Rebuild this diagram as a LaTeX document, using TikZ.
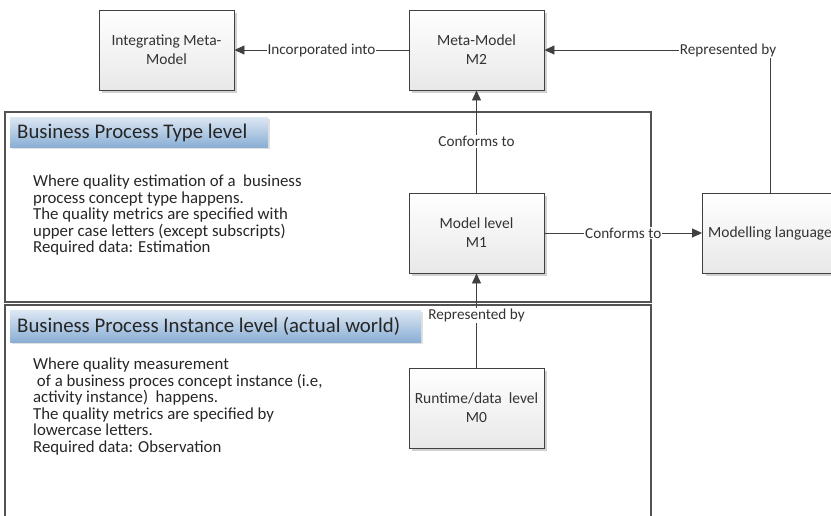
\documentclass[tikz,border=0pt]{standalone}
\usepackage{fontspec}
\setmainfont{Carlito}
\usetikzlibrary{shadows,arrows.meta}
\definecolor{edge}{HTML}{404040}
\definecolor{txt}{HTML}{333333}
\definecolor{hdrtop}{HTML}{DCE7F3}
\definecolor{hdrbot}{HTML}{8AAED5}
\tikzset{
  levelbox/.style={draw=edge, line width=0.9pt, fill=white, minimum width=135pt, minimum height=80pt,
    top color=white, bottom color=black!9, align=center, text=txt, font=\fontsize{15.5}{19}\selectfont,
    drop shadow={shadow xshift=3pt, shadow yshift=-3pt, fill=black!18, opacity=1}},
  zone/.style={draw=edge!90, line width=1.1pt},
  header/.style={anchor=north west, inner sep=0pt, draw=none,
    top color=hdrtop, bottom color=hdrbot,
    drop shadow={shadow xshift=2pt, shadow yshift=-2pt, fill=black!12, opacity=1}},
  headtext/.style={anchor=base west, inner sep=0pt, text=black!85, font=\fontsize{20.8}{24}\selectfont},
  flow/.style={draw=edge, line width=0.9pt, -{Triangle[length=10pt,width=9pt]}},
  tag/.style={fill=white, inner sep=1pt, text=txt, font=\fontsize{15.2}{18}\selectfont},
  body/.style={anchor=north west, align=left, text=black!85, inner sep=0pt, font=\fontsize{16.8}{16.5}\selectfont}
}
\begin{document}
\begin{tikzpicture}[x=1pt,y=-1pt]
\useasboundingbox (0,0) rectangle (831,515);

% level zones
\draw[zone] (5,112) rectangle (651,302);
\draw[zone] (5,305) rectangle (651,530);
\node[header, minimum width=258pt, minimum height=30pt] (typehdr) at (10,117) {};
\node[header, minimum width=411pt, minimum height=32pt] (insthdr) at (10,310) {};
\node[headtext] (typehead) at (17,138) {Business Process Type level};
\node[headtext] (insthead) at (17,332) {Business Process Instance level (actual world)};

\node[body] (typetxt) at (33,175) {Where quality estimation of a\ \ business\\process concept type happens.\\The quality metrics are specified with\\upper case letters (except subscripts)\\Required data: Estimation};
\node[body] (insttxt) at (33,358) {Where quality measurement\\\ of a business proces concept instance (i.e,\\activity instance)\ \ happens.\\The quality metrics are specified by\\lowercase letters.\\Required data: Observation};

% level boxes
\node[levelbox] (imm) at (166.5,50) {Integrating Meta-\\Model};
\node[levelbox] (m2) at (476.5,50) {Meta-Model\\M2};
\node[levelbox] (m1) at (476.5,233) {Model level\\M1};
\node[levelbox] (m0) at (476.5,408) {Runtime/data\ \ level\\M0};
\node[levelbox] (lang) at (770,233) {Modelling language};

% connectors
\draw[flow] (m2) -- node[tag] {Incorporated into} (imm);
\draw[flow] (m1) -- node[tag] {Conforms to} (m2);
\draw[flow] (m1) -- node[tag, pos=0.5] {Conforms to} (lang);
\draw[flow] (m0) -- node[tag, pos=0.55] {Represented by} (m1);
\coordinate (bend) at (770,50);
\draw[flow] (lang.north) -- (bend) -- (m2.east);
\node[tag] (replabel) at (728,50) {Represented by};
\end{tikzpicture}
\end{document}
